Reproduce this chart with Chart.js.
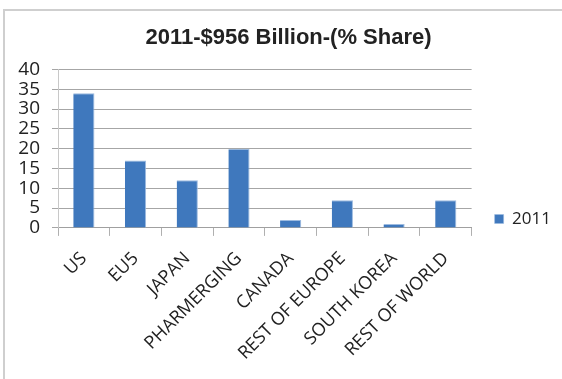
<!DOCTYPE html>
<html>
<head>
<meta charset="utf-8">
<script src="https://cdn.jsdelivr.net/npm/chart.js@4/dist/chart.umd.min.js"></script>
<style>
  html, body { margin: 0; padding: 0; background: #fff; }
  #wrap { position: relative; width: 562px; height: 379px; }
  #frame { position: absolute; left: 3px; top: 9px; right: 0; bottom: 0; border-left: 2px solid #cfcfcf; border-top: 2px solid #cfcfcf; }
  canvas { position: absolute; left: 0; top: 0; }
</style>
</head>
<body>
<div id="wrap">
  <div id="frame"></div>
  <canvas id="chart" width="562" height="379"></canvas>
</div>
<script>
// datos
const categorias = ['US', 'EU5', 'JAPAN', 'PHARMERGING', 'CANADA', 'REST OF EUROPE', 'SOUTH KOREA', 'REST OF WORLD'];
const share2011 = [34, 17, 12, 20, 2, 7, 1, 7];
const serieNombre = '2011';
const yMin = 0, yMax = 40, yPaso = 5;

const ctx = document.getElementById('chart').getContext('2d');
new Chart(ctx, {
  type: 'bar',
  data: {
    labels: categorias,
    datasets: [{
      label: serieNombre,
      data: share2011,
      backgroundColor: '#3f78bd',
      borderColor: '#9dbbe0',
      borderWidth: { top: 1, right: 1, left: 0, bottom: 0 },
      categoryPercentage: 1,
      barPercentage: 0.41
    }]
  },
  options: {
    responsive: false,
    animation: false,
    layout: { padding: { left: 16, right: 1, top: 0, bottom: 3 } },
    plugins: {
      title: {
        display: true,
        text: '2011-$956 Billion-(% Share)',
        color: '#222',
        font: { family: 'Liberation Sans', size: 22, weight: 'bold', lineHeight: 1.2 },
        padding: { top: 25, bottom: 18 }
      },
      legend: {
        position: 'right',
        // titulo vacio solo para bajar la leyenda
        title: { display: true, text: ' ', font: { size: 1, lineHeight: 1 }, padding: { top: 0, bottom: 61 } },
        labels: {
          color: '#222',
          boxWidth: 9,
          boxHeight: 9,
          padding: 23,
          font: { family: 'Open Sans', size: 17 }
        }
      },
      tooltip: { enabled: false }
    },
    scales: {
      x: {
        grid: { drawOnChartArea: false, drawTicks: true, tickLength: 8, color: '#b0b0b0' },
        border: { color: '#a0a0a0' },
        ticks: {
          color: '#222',
          minRotation: 45,
          maxRotation: 45,
          autoSkip: false,
          padding: 12,
          font: { family: 'Open Sans', size: 18 }
        }
      },
      y: {
        min: yMin,
        max: yMax,
        afterFit: s => { s.width = 42; },
        grid: { color: '#a6a6a6', tickLength: 6, drawTicks: true },
        border: { color: '#c8c8c8' },
        ticks: {
          stepSize: yPaso,
          autoSkip: false,
          color: '#222',
          padding: 12,
          font: { family: 'Open Sans', size: 19 }
        }
      }
    }
  }
});
</script>
</body>
</html>
